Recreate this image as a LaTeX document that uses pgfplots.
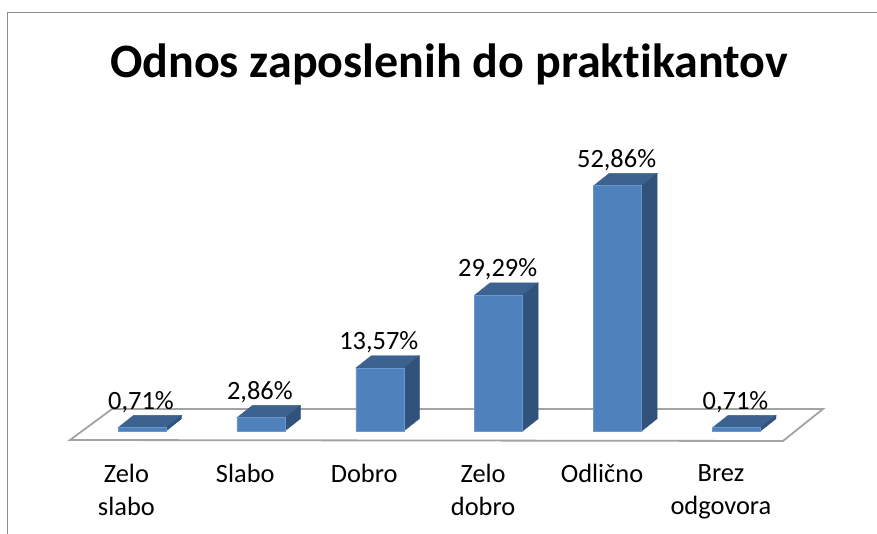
\documentclass[border=0pt]{standalone}
\usepackage{pgfplots}
\pgfplotsset{compat=1.18}
\usepackage{pgfplotstable}
\usepackage{fontspec}
\setmainfont{Carlito}[Ligatures=NoCommon]
\definecolor{barfront}{HTML}{4F81BD}
\definecolor{bartop}{HTML}{3C6390}
\definecolor{barside}{HTML}{31527B}
\definecolor{baredge}{HTML}{6C97CC}
\definecolor{floorline}{HTML}{A3A3A3}
\definecolor{frameline}{HTML}{8C8C8C}
\pgfplotstableread{
cat val lab
0 0.71 0,71
1 2.86 2,86
2 13.57 13,57
3 29.29 29,29
4 52.86 52,86
5 0.71 0,71
}\datatable
\newcommand{\hw}{0.2019}
\newcommand{\dx}{0.1304}
\newcommand{\dy}{2.65}
\newcommand{\barfaces}[2]{%
  \addplot[fill=bartop,draw=bartop,line width=0.4pt,forget plot] coordinates {({#1-\hw},#2) ({#1-\hw+\dx},{#2+\dy}) ({#1+\hw+\dx},{#2+\dy}) ({#1+\hw},#2)} -- cycle;
  \addplot[fill=barside,draw=barside,line width=0.4pt,forget plot] coordinates {({#1+\hw},0) ({#1+\hw},#2) ({#1+\hw+\dx},{#2+\dy}) ({#1+\hw+\dx},\dy)} -- cycle;
}
\begin{document}
\begin{tikzpicture}
\path[use as bounding box] (0,0) rectangle (877pt,534pt);
\begin{axis}[
  scale only axis, width=877pt, height=534pt,
  xmin=-1.1943, xmax=6.1817, ymin=-22.198, ymax=92.888,
  clip=false,
  axis line style={draw=none},
  ytick=\empty,
  xtick={0,1,2,3,4,5},
  xticklabels={{Zelo\\slabo},{Slabo},{Dobro},{Zelo\\dobro},{Odlično},{Brez\\odgovora}},
  tick style={draw=none},
  xticklabel style={font=\fontsize{26.4}{33}\selectfont, align=center, anchor=north, yshift=73pt, xshift=-15.6pt},
]
% floor
\addplot[fill=white,draw=floorline,line width=1.8pt,forget plot] coordinates {(-0.6055,-1.94) (5.391,-2.155) (5.727,4.74) (-0.252,4.74)} -- cycle;
\barfaces{0}{0.71}
\barfaces{1}{2.86}
\barfaces{2}{13.57}
\barfaces{3}{29.29}
\barfaces{4}{52.86}
\barfaces{5}{0.71}
% front faces
\addplot[ybar,bar width=48pt,bar shift=0pt,fill=barfront,draw=baredge,line width=0.5pt,forget plot] table[x=cat,y=val] {\datatable};
% data labels
\addplot[only marks,mark=none,forget plot,point meta=explicit symbolic,
  nodes near coords={\pgfplotspointmeta\%},
  every node near coord/.style={anchor=base,yshift=18.5pt,xshift=-1pt,font=\fontsize{26.4}{30}\selectfont,inner sep=0pt,text=black}]
  table[x=cat,y=val,meta=lab] {\datatable};
% title and frame
\node[font=\fontsize{48}{56}\selectfont\bfseries,anchor=base] at (rel axis cs:0.512,0.854) {Odnos zaposlenih do praktikantov};
\draw[frameline,line width=1.3pt] (rel axis cs:0.0086,0) -- (rel axis cs:0.0086,0.9766) -- (rel axis cs:1,0.9766);
\end{axis}
\end{tikzpicture}
\end{document}
